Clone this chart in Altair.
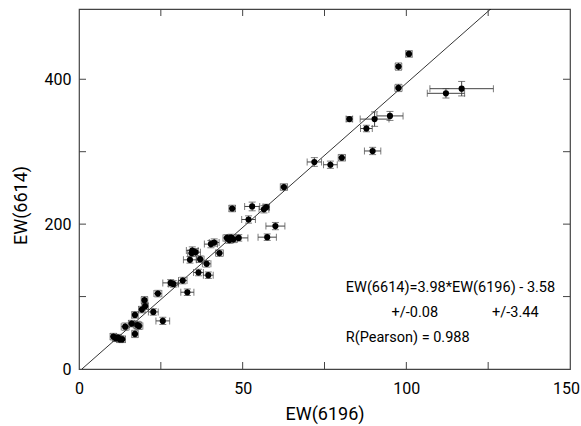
import altair as alt
import pandas as pd

# ---- data ----
ew6196 = [100.8, 97.6, 97.6, 116.9, 112.1, 95.0, 90.3, 82.6, 87.8, 89.7,
          80.3, 71.9, 76.8, 62.6, 46.8, 52.9, 56.5, 57.2, 51.8, 60.0,
          57.5, 48.8, 45.2, 45.9, 46.5, 47.2, 40.3, 41.3, 42.9, 34.6,
          35.6, 33.9, 37.0, 39.0, 36.5, 39.5, 31.7, 28.0, 28.8, 33.1,
          24.1, 20.0, 20.2, 19.2, 22.7, 25.6, 17.1, 16.1, 17.8, 18.3,
          14.1, 17.1, 10.5, 11.2, 11.9, 12.5, 13.2, 34.4]
ew6614 = [435, 417.5, 388, 387, 380.6, 349.4, 345, 345, 332, 301,
          291.7, 285.8, 282, 251.2, 221.6, 224.4, 220.5, 223.5, 206.4, 197.3,
          182, 181, 181, 178, 181.5, 179, 172.4, 174.6, 160, 163.6,
          161.3, 150.7, 151.6, 145.2, 133.2, 129.5, 122.1, 118.9, 117.5, 106,
          104.1, 95, 86.7, 82, 78.8, 66.4, 74.7, 62.7, 60.8, 59.5,
          58.5, 48.4, 44.7, 42.4, 43.3, 41, 41, 160]
err6196 = [1.0, 1.0, 1.1, 9.7, 5.7, 4.0, 4.4, 1.0, 1.8, 2.5,
           1.1, 2.2, 2.1, 1.1, 1.0, 2.3, 1.5, 1.0, 2.1, 2.9,
           2.8, 2.8, 1.2, 1.2, 1.2, 1.2, 2.0, 1.5, 1.2, 1.8,
           1.5, 2.0, 1.2, 1.3, 1.5, 1.5, 1.3, 2.4, 1.5, 2.0,
           1.2, 1.0, 1.0, 1.0, 1.5, 2.1, 1.0, 1.0, 1.2, 1.2,
           1.2, 1.0, 1.0, 1.0, 1.0, 1.0, 1.0, 1.2]
err6614 = [4.5, 5, 5, 10, 6.5, 6.2, 10, 3.5, 4.5, 5,
           4.5, 6, 5, 4.5, 4.5, 6, 5, 4, 5, 5,
           4.5, 4.5, 4.5, 4.5, 4.5, 4.5, 5, 5, 4.5, 5,
           5, 4.5, 4.5, 4.5, 4.5, 4.5, 4.5, 4.5, 4.5, 4.5,
           4.5, 5, 4.5, 4.5, 4.5, 5, 4.5, 4.5, 5, 5,
           5, 5, 4.5, 4.5, 4.5, 4.5, 4.5, 4.5]

fit_slope = 3.98
fit_intercept = -3.58
fit_x = [0.9, 150.0]

x_tick_vals = [25, 50, 75, 100, 125]
y_tick_vals = [100, 200, 300, 400]
x_label_vals = [0, 50, 100, 150]
y_label_vals = [0, 200, 400]

ann_text = ["EW(6614)=3.98*EW(6196) - 3.58", "+/-0.08", "+/-3.44", "R(Pearson) = 0.988"]
ann_x = [81.5, 95.5, 126.2, 81.5]
ann_y = [112.4, 77.4, 77.4, 43.3]

# ---- build ----
W, H = 491, 360
FONT = "Roboto"
ERR = "#444444"

df = pd.DataFrame({"x": ew6196, "y": ew6614, "xe": err6196, "ye": err6614})
df["xlo"] = df.x - df.xe
df["xhi"] = df.x + df.xe
df["ylo"] = df.y - df.ye
df["yhi"] = df.y + df.ye

fit = pd.DataFrame({"x": fit_x, "y": [fit_slope * v + fit_intercept for v in fit_x]})
xt = pd.DataFrame({"t": x_tick_vals})
yt = pd.DataFrame({"t": y_tick_vals})
ann = pd.DataFrame({"text": ann_text, "x": ann_x, "y": ann_y})

xs = alt.Scale(domain=[0, 150], nice=False, zero=False)
ys = alt.Scale(domain=[0, 497], nice=False, zero=False)
xaxis = alt.Axis(values=x_label_vals, ticks=False, domain=False, grid=False,
                 labelPadding=11, labelFontSize=16, labelFont=FONT, labelColor="#000",
                 labelOffset={"condition": {"test": "datum.value == 150", "value": -4}, "value": 0},
                 title="EW(6196)", titleFont=FONT, titleFontSize=18, titleFontWeight="normal",
                 titleColor="#000", titlePadding=9, labelFlush=False)
yaxis = alt.Axis(values=y_label_vals, ticks=False, domain=False, grid=False,
                 labelPadding=8, labelFontSize=16, labelFont=FONT, labelColor="#000",
                 title="EW(6614)", titleFont=FONT, titleFontSize=18, titleFontWeight="normal",
                 titleColor="#000", titlePadding=14, titleY=196, labelFlush=False)


def X(f):
    return alt.X(f, type="quantitative", scale=xs, axis=xaxis)


def Y(f):
    return alt.Y(f, type="quantitative", scale=ys, axis=yaxis)


base = alt.Chart(df)
hbar = base.mark_rule(color=ERR, strokeWidth=1).encode(x=X("xlo"), x2="xhi", y=Y("y"))
vbar = base.mark_rule(color=ERR, strokeWidth=1).encode(x=X("x"), y=Y("ylo"), y2="yhi")
cap_xl = base.mark_tick(color=ERR, orient="vertical", size=7, thickness=1).encode(x=X("xlo"), y=Y("y"))
cap_xh = base.mark_tick(color=ERR, orient="vertical", size=7, thickness=1).encode(x=X("xhi"), y=Y("y"))
cap_yl = base.mark_tick(color=ERR, orient="horizontal", size=7, thickness=1).encode(x=X("x"), y=Y("ylo"))
cap_yh = base.mark_tick(color=ERR, orient="horizontal", size=7, thickness=1).encode(x=X("x"), y=Y("yhi"))
pts = base.mark_circle(size=38, color="#000", opacity=1).encode(x=X("x"), y=Y("y"))

line = alt.Chart(fit).mark_line(color="#000", strokeWidth=0.8, clip=True).encode(x=X("x"), y=Y("y"))

TK = "#444444"
tb = alt.Chart(xt).mark_rule(color=TK).encode(x=X("t"), y=alt.value(H), y2=alt.value(H - 7))
tt = alt.Chart(xt).mark_rule(color=TK).encode(x=X("t"), y=alt.value(0), y2=alt.value(7))
tl = alt.Chart(yt).mark_rule(color=TK).encode(y=Y("t"), x=alt.value(0), x2=alt.value(7))
tr = alt.Chart(yt).mark_rule(color=TK).encode(y=Y("t"), x=alt.value(W), x2=alt.value(W - 7))

text = alt.Chart(ann).mark_text(align="left", baseline="middle", font=FONT, fontSize=14.5,
                                color="#000").encode(x=X("x"), y=Y("y"), text="text:N")

chart = alt.layer(line, hbar, vbar, cap_xl, cap_xh, cap_yl, cap_yh, pts, tb, tt, tl, tr, text).properties(
    width=W, height=H,
    autosize=alt.AutoSizeParams(type="none"),
    padding={"left": 79, "top": 9, "right": 11, "bottom": 57},
    background="#ffffff",
).configure_view(stroke="#444444", strokeWidth=1.2)

chart.save("out.html", embed_options={"renderer": "svg", "actions": False})
